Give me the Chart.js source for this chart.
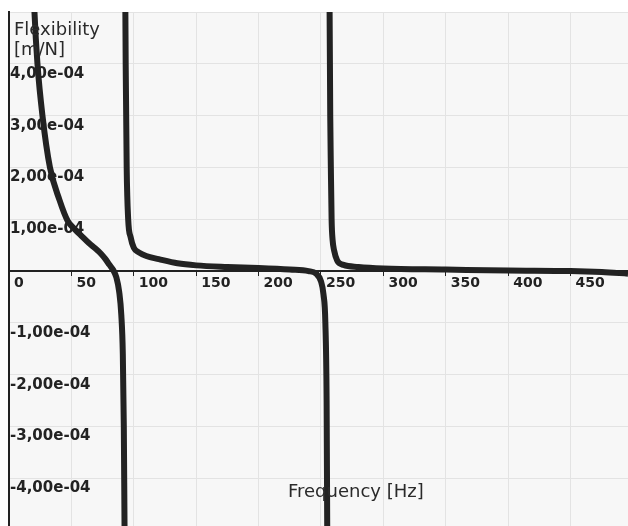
<!DOCTYPE html>
<html>
<head>
<meta charset="utf-8">
<script src="https://cdn.jsdelivr.net/npm/chart.js@4/dist/chart.umd.min.js"></script>
<style>
  body { margin: 0; background: #ffffff; }
  canvas { display: block; }
</style>
</head>
<body>
<canvas id="flexChart" width="628" height="526"></canvas>
<script>
// branch below the first resonance (Hz / m/N)
const freqLow = [19.5, 20.4, 22.8, 26.8, 32.8, 40.5, 47, 53, 58, 64, 69, 73.5, 77, 80.5, 83.5, 86, 88.3, 90.0, 91.2, 92.0, 92.6, 93.0];
const flexLow = [5.6e-4, 5.0e-4, 4.0e-4, 3.0e-4, 2.0e-4, 1.37e-4, 0.97e-4, 0.8e-4, 0.68e-4, 0.54e-4, 0.44e-4, 0.34e-4, 0.24e-4, 0.12e-4, 0.02e-4, -0.12e-4, -0.4e-4, -0.85e-4, -1.6e-4, -3.0e-4, -5.0e-4, -6.0e-4];

// branch between the two resonances
const freqMid = [93.0, 93.5, 94.3, 95.5, 97.5, 100, 104, 110, 120, 135, 150, 175, 200, 225, 240, 246, 250, 252, 253.5, 254.5, 255.0, 255.3];
const flexMid = [6.0e-4, 4.0e-4, 2.0e-4, 1.0e-4, 0.65e-4, 0.45e-4, 0.36e-4, 0.29e-4, 0.23e-4, 0.15e-4, 0.11e-4, 0.08e-4, 0.06e-4, 0.03e-4, 0, -0.05e-4, -0.2e-4, -0.45e-4, -1.0e-4, -2.5e-4, -5.0e-4, -6.0e-4];

// branch above the second resonance
const freqHigh = [256.7, 256.9, 257.4, 257.9, 258.5, 259.3, 260.5, 263, 268, 280, 300, 350, 400, 450, 475, 496];
const flexHigh = [6.0e-4, 5.0e-4, 3.0e-4, 2.0e-4, 1.0e-4, 0.6e-4, 0.4e-4, 0.2e-4, 0.12e-4, 0.08e-4, 0.05e-4, 0.03e-4, 0.01e-4, 0, -0.02e-4, -0.05e-4];

const xMin = 0, xMax = 496, xStep = 50;
const yMin = -4.92e-4, yMax = 5.0e-4, yStep = 1.0e-4;

const yTitle = ['Flexibility', '[m/N]'];
const xTitle = 'Frequency [Hz]';

function toPoints(xs, ys) {
    return xs.map((x, i) => ({ x: x, y: ys[i] }));
}

// 1,00e-04 style labels
function sciLabel(v) {
    if (Math.abs(v) < 1e-12 || v >= yMax - 1e-12) return '';
    const parts = v.toExponential(2).split('e');
    const exp = parseInt(parts[1], 10);
    const sign = exp < 0 ? '-' : '+';
    return parts[0].replace('.', ',') + 'e' + sign + String(Math.abs(exp)).padStart(2, '0');
}

// labels sit inside the plot, so they should not shrink it
function noLabelPadding(scale) {
    scale.paddingLeft = 0;
    scale.paddingRight = 0;
    scale.paddingTop = 0;
    scale.paddingBottom = 0;
}

const lineStyle = {
    borderColor: '#222222',
    borderWidth: 6,
    pointRadius: 0,
    fill: false,
    clip: 0,
    cubicInterpolationMode: 'monotone'
};

const plotBackground = {
    id: 'plotBackground',
    beforeDraw(chart) {
        const { ctx, chartArea } = chart;
        ctx.save();
        ctx.fillStyle = '#f7f7f7';
        ctx.fillRect(chartArea.left, chartArea.top, chartArea.right - chartArea.left, chartArea.bottom - chartArea.top);
        ctx.restore();
    }
};

const axisTitles = {
    id: 'axisTitles',
    afterDraw(chart) {
        const ctx = chart.ctx;
        ctx.save();
        ctx.fillStyle = '#2a2a2a';
        ctx.font = '18px "DejaVu Sans"';
        ctx.textAlign = 'left';
        ctx.textBaseline = 'alphabetic';
        ctx.fillText(yTitle[0], 14, 35);
        ctx.fillText(yTitle[1], 14, 55);
        ctx.fillText(xTitle, 288, 497);
        ctx.restore();
    }
};

document.addEventListener('DOMContentLoaded', function () {
    const ctx = document.getElementById('flexChart').getContext('2d');

    new Chart(ctx, {
        type: 'line',
        data: {
            datasets: [
                Object.assign({ data: toPoints(freqLow, flexLow) }, lineStyle),
                Object.assign({ data: toPoints(freqMid, flexMid) }, lineStyle),
                Object.assign({ data: toPoints(freqHigh, flexHigh) }, lineStyle)
            ]
        },
        options: {
            responsive: false,
            animation: false,
            devicePixelRatio: 1,
            layout: { padding: { left: 7, top: 12, right: 0, bottom: 0 } },
            plugins: {
                legend: { display: false },
                tooltip: { enabled: false }
            },
            scales: {
                x: {
                    type: 'linear',
                    position: { y: 0 },
                    min: xMin,
                    max: xMax,
                    afterFit: noLabelPadding,
                    grid: { color: '#e3e3e3', tickColor: '#222222', tickLength: 4, drawTicks: true },
                    border: { color: '#222222', width: 2 },
                    ticks: {
                        stepSize: xStep,
                        includeBounds: false,
                        align: 'start',
                        labelOffset: 5,
                        padding: 0,
                        maxRotation: 0,
                        color: '#222222',
                        font: { family: 'DejaVu Sans', size: 14, weight: 'bold' }
                    }
                },
                y: {
                    type: 'linear',
                    position: 'left',
                    min: yMin,
                    max: yMax,
                    afterFit: noLabelPadding,
                    grid: { color: '#e3e3e3', drawTicks: false },
                    border: { color: '#222222', width: 2 },
                    ticks: {
                        stepSize: yStep,
                        includeBounds: false,
                        mirror: true,
                        padding: 1,
                        labelOffset: 10,
                        color: '#222222',
                        font: { family: 'DejaVu Sans', size: 15, weight: 'bold' },
                        callback: sciLabel
                    }
                }
            }
        },
        plugins: [plotBackground, axisTitles]
    });
});
</script>
</body>
</html>
